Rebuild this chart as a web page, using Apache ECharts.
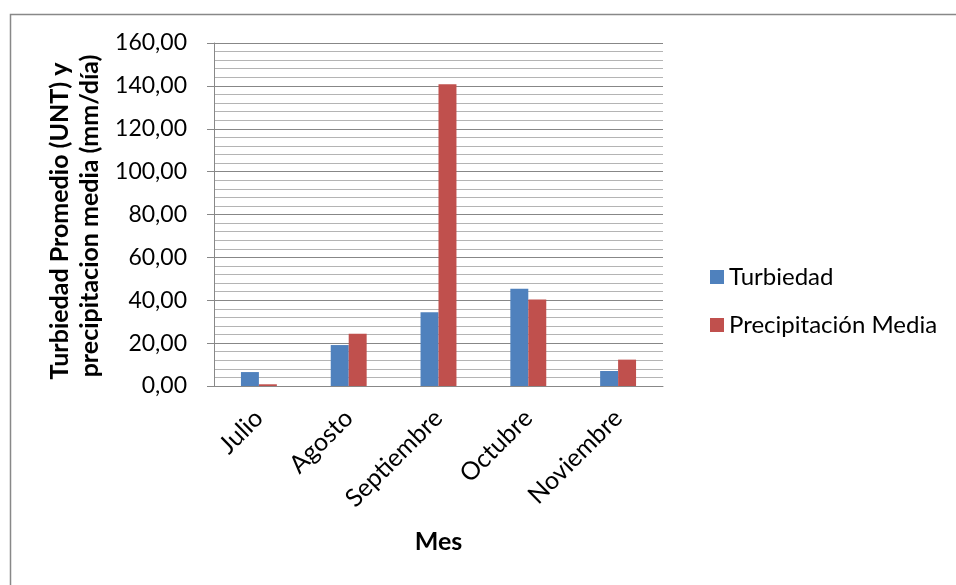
<!DOCTYPE html>
<html>
<head>
<meta charset="utf-8">
<script src="https://cdn.jsdelivr.net/npm/echarts@6/dist/echarts.min.js"></script>
<style>
  html, body { margin: 0; padding: 0; background: #ffffff; }
  #chart { width: 956px; height: 585px; }
</style>
</head>
<body>
<div id="chart"></div>
<script>
// Months on the category axis
const meses = ['Julio', 'Agosto', 'Septiembre', 'Octubre', 'Noviembre'];
// Average turbidity (UNT) per month
const turbiedad = [6.5, 19.1, 34.4, 45.4, 7.0];
// Mean precipitation (mm/día) per month
const precipitacion = [0.8, 24.4, 140.7, 40.4, 12.3];
// Value axis range
const yMin = 0;
const yMax = 160;
const yStep = 20;

const FONT = 'Lato, "Noto Sans", sans-serif';

const chart = echarts.init(document.getElementById('chart'), null, { renderer: 'canvas' });

chart.setOption({
  animation: false,
  backgroundColor: '#ffffff',
  textStyle: { fontFamily: FONT },
  grid: { left: 214, right: 293, top: 43, bottom: 199, containLabel: false },
  legend: {
    orient: 'vertical',
    left: 705,
    top: 260,
    itemWidth: 14,
    itemHeight: 14,
    itemGap: 24,
    icon: 'rect',
    textStyle: { fontFamily: FONT, fontSize: 24, lineHeight: 24, color: '#000000', padding: [0, 0, 0, 0] },
    data: ['Turbiedad', 'Precipitación Media']
  },
  xAxis: {
    type: 'category',
    data: meses,
    axisLine: { show: true, lineStyle: { color: '#888888', width: 1 } },
    axisTick: { show: false },
    axisLabel: {
      rotate: 45,
      margin: 28,
      fontFamily: FONT,
      fontSize: 25,
      color: '#000000'
    },
    name: 'Mes',
    nameLocation: 'middle',
    nameGap: 143,
    nameTextStyle: { fontFamily: FONT, fontSize: 25, fontWeight: 'bold', color: '#000000' }
  },
  yAxis: {
    type: 'value',
    min: yMin,
    max: yMax,
    interval: yStep,
    axisLine: { show: true, lineStyle: { color: '#888888', width: 1 } },
    axisTick: { show: true, inside: false, length: 7, lineStyle: { color: '#888888' } },
    axisLabel: {
      margin: 27,
      fontFamily: FONT,
      fontSize: 23,
      color: '#000000',
      formatter: v => v.toFixed(2).replace('.', ',')
    },
    splitLine: { show: true, lineStyle: { color: '#878787', width: 1 } },
    minorTick: { show: false, splitNumber: 5 },
    minorSplitLine: { show: true, lineStyle: { color: '#b4b4b4', width: 1 } }
  },
  series: [
    {
      name: 'Turbiedad',
      type: 'bar',
      data: turbiedad,
      barGap: '0%',
      barCategoryGap: '60%',
      itemStyle: { color: '#4F81BD' }
    },
    {
      name: 'Precipitación Media',
      type: 'bar',
      data: precipitacion,
      barGap: '0%',
      barCategoryGap: '60%',
      itemStyle: { color: '#C0504D' }
    }
  ],
  graphic: [
    {
      type: 'rect',
      left: 8,
      top: 12,
      shape: { width: 1000, height: 700 },
      style: { fill: 'none', stroke: '#888888', lineWidth: 1.5 },
      silent: true,
      z: -1
    },
    {
      type: 'text',
      x: 60,
      y: 221,
      rotation: Math.PI / 2,
      style: {
        text: 'Turbiedad Promedio (UNT) y',
        fontFamily: FONT,
        fontSize: 25,
        fontWeight: 'bold',
        fill: '#000000',
        align: 'center',
        verticalAlign: 'middle'
      }
    },
    {
      type: 'text',
      x: 90,
      y: 216,
      rotation: Math.PI / 2,
      style: {
        text: 'precipitacion media (mm/día)',
        fontFamily: FONT,
        fontSize: 25,
        fontWeight: 'bold',
        fill: '#000000',
        align: 'center',
        verticalAlign: 'middle'
      }
    }
  ]
});
</script>
</body>
</html>
